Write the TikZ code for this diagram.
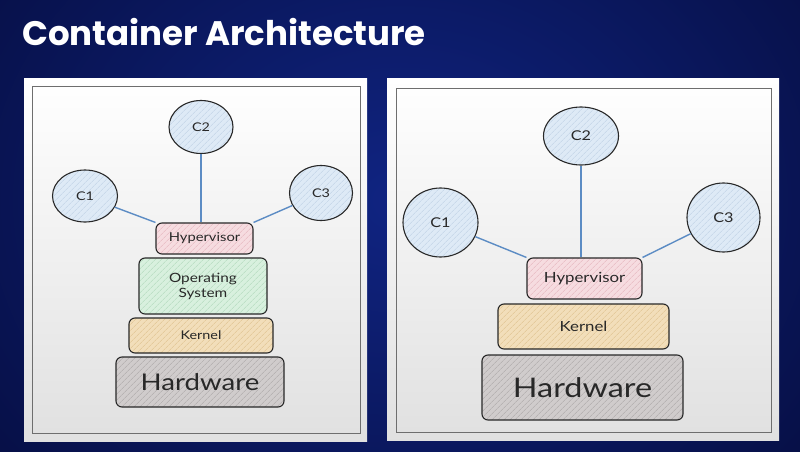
\documentclass[tikz,border=0pt]{standalone}
\usepackage{fontspec}
\setmainfont{Lato}
\newfontfamily\titlefont{Poppins}
\newfontfamily\hand{Lato}[FakeStretch=1.2]
\usetikzlibrary{shapes.geometric,patterns.meta}
\definecolor{bgdark}{RGB}{6,14,66}
\definecolor{bgmid}{RGB}{16,36,130}
\definecolor{framegray}{RGB}{110,110,110}
\definecolor{ink}{RGB}{40,40,40}
\definecolor{linkblue}{RGB}{92,140,196}
\definecolor{cfill}{RGB}{222,234,246}
\definecolor{chatch}{RGB}{190,208,228}
\definecolor{hfill}{RGB}{246,220,224}
\definecolor{hhatch}{RGB}{228,180,188}
\definecolor{ofill}{RGB}{216,240,222}
\definecolor{ohatch}{RGB}{176,216,186}
\definecolor{kfill}{RGB}{242,222,186}
\definecolor{khatch}{RGB}{222,192,140}
\definecolor{wfill}{RGB}{208,204,204}
\definecolor{whatch}{RGB}{170,166,166}
\tikzset{
  hatchbox/.style 2 args={draw=ink, line width=1.1pt, rounded corners=6pt,
    preaction={fill=#1}, pattern={Lines[angle=45,distance=4pt,line width=0.5pt]},
    pattern color=#2, inner sep=0pt, text=ink, font=\hand, align=center},
  cont/.style={ellipse, hatchbox={cfill}{chatch}, rounded corners=0pt},
  hyp/.style={hatchbox={hfill}{hhatch}},
  os/.style={hatchbox={ofill}{ohatch}},
  ker/.style={hatchbox={kfill}{khatch}},
  hw/.style={hatchbox={wfill}{whatch}},
  link/.style={draw=linkblue, line width=1.4pt},
}
\begin{document}
\begin{tikzpicture}[x=1pt,y=-1pt]
\useasboundingbox (0,0) rectangle (800,452);
% background
\fill[bgdark] (0,0) rectangle (800,452);
\shade[inner color=bgmid, outer color=bgdark] (-150,-250) rectangle (950,650);
% title
\node[anchor=base west, inner sep=0pt, text=white, font=\titlefont\bfseries\fontsize{34}{40}\selectfont] (title) at (22,46) {Container Architecture};
% panels
\shade[top color=white, bottom color=black!12] (24,78) rectangle (367,441);
\draw[framegray, line width=0.9pt] (32,86) rectangle (360,433);
\shade[top color=white, bottom color=black!12] (387,78) rectangle (779,440);
\draw[framegray, line width=0.9pt] (396,88) rectangle (771,432);

% ---- left panel ----
\node[cont, minimum width=65pt, minimum height=52pt, font=\hand\fontsize{12}{14}\selectfont] (lc1) at (85,196) {C1};
\node[cont, minimum width=64pt, minimum height=53pt, font=\hand\fontsize{12}{14}\selectfont] (lc2) at (201,127) {C2};
\node[cont, minimum width=63pt, minimum height=55pt, font=\hand\fontsize{12}{14}\selectfont] (lc3) at (321,193) {C3};
\node[hyp, minimum width=97pt, minimum height=31pt, font=\hand\fontsize{12.3}{14}\selectfont] (lhyp) at (204.5,238.5) {Hypervisor};
\node[os, minimum width=128pt, minimum height=56pt, font=\hand\fontsize{12.8}{15}\selectfont] (los) at (203,286) {Operating\\System};
\node[ker, minimum width=144pt, minimum height=35pt, font=\hand\fontsize{12}{14}\selectfont] (lker) at (201,335.5) {Kernel};
\node[hw, minimum width=168pt, minimum height=50pt, font=\hand\fontsize{23}{26}\selectfont] (lhw) at (200,382) {Hardware};
\draw[link] (lc1) -- (lhyp.north west);
\draw[link] (lc2) -- (lc2 |- lhyp.north);
\draw[link] (lc3) -- (lhyp.north east);

% ---- right panel ----
\node[cont, minimum width=75pt, minimum height=69pt, font=\hand\fontsize{13.5}{16}\selectfont] (rc1) at (440.5,222.5) {C1};
\node[cont, minimum width=75pt, minimum height=58pt, font=\hand\fontsize{13.5}{16}\selectfont] (rc2) at (581,136) {C2};
\node[cont, minimum width=73pt, minimum height=69pt, font=\hand\fontsize{13.5}{16}\selectfont] (rc3) at (723.5,217.5) {C3};
\node[hyp, minimum width=115pt, minimum height=41pt, font=\hand\fontsize{14}{16}\selectfont] (rhyp) at (584.5,278.5) {Hypervisor};
\node[ker, minimum width=171pt, minimum height=45pt, font=\hand\fontsize{14}{16}\selectfont] (rker) at (583.5,326.5) {Kernel};
\node[hw, minimum width=201pt, minimum height=65pt, font=\hand\fontsize{27}{31}\selectfont] (rhw) at (582.5,387.5) {Hardware};
\draw[link] (rc1) -- (rhyp.north west);
\draw[link] (rc2) -- (rc2 |- rhyp.north);
\draw[link] (rc3) -- (rhyp.north east);
\end{tikzpicture}
\end{document}
